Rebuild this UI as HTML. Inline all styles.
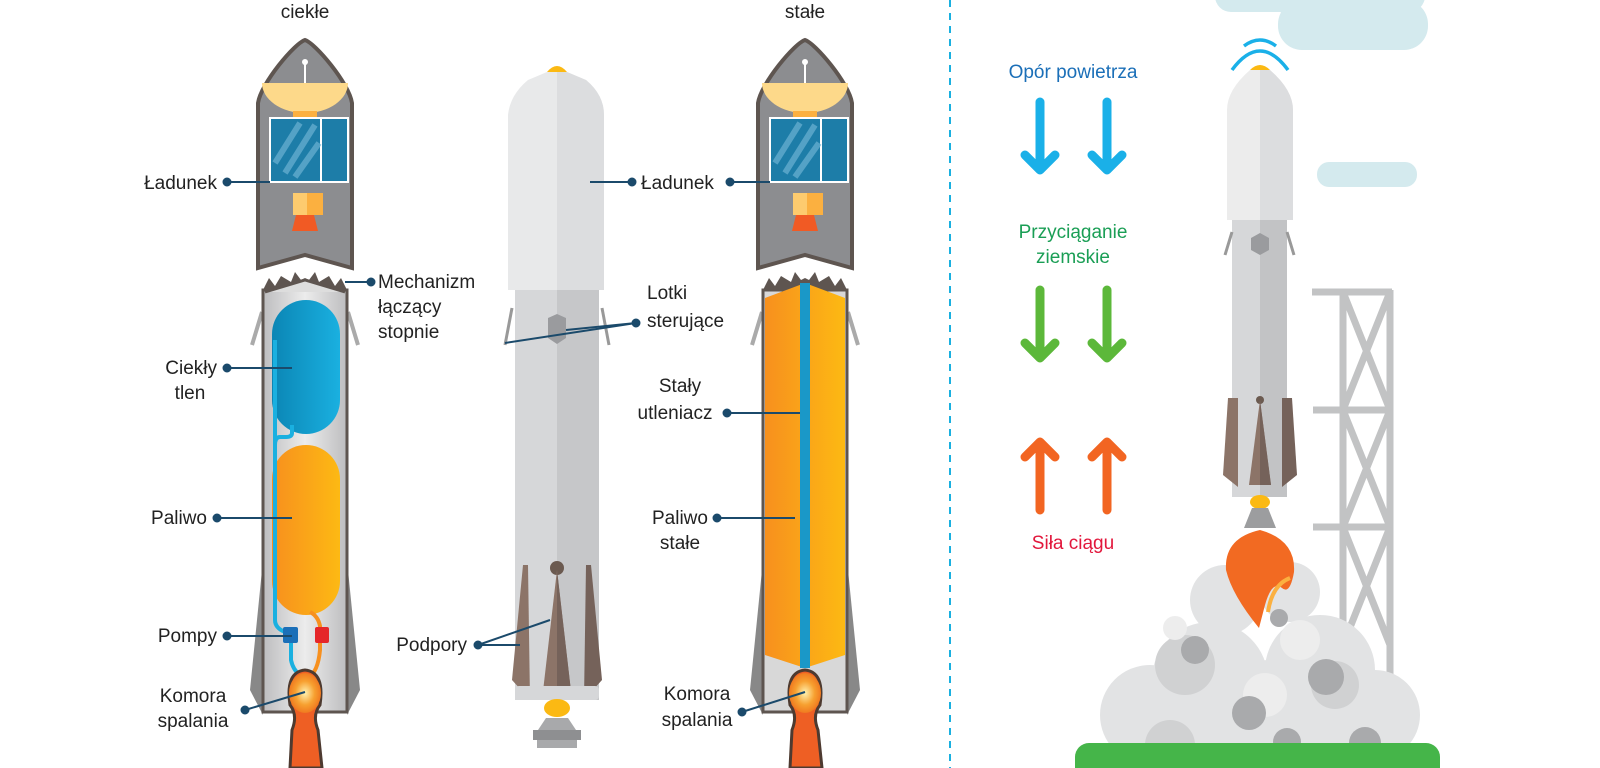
<!DOCTYPE html>
<html><head><meta charset="utf-8"><style>
html,body{margin:0;padding:0;background:#fff;}
svg{display:block;}
text{font-family:"Liberation Sans",sans-serif;font-size:19px;fill:#222;}
</style></head><body>
<svg width="1600" height="768" viewBox="0 0 1600 768" xmlns="http://www.w3.org/2000/svg">
<defs>
<linearGradient id="gb" x1="0" x2="1"><stop offset="0" stop-color="#0b86b5"/><stop offset="1" stop-color="#1ab0e0"/></linearGradient>
<linearGradient id="go" x1="0" x2="1"><stop offset="0" stop-color="#f7901e"/><stop offset="1" stop-color="#fdb913"/></linearGradient>
<linearGradient id="gs" x1="0" x2="1"><stop offset="0" stop-color="#bdbdbf"/><stop offset=".5" stop-color="#ececec"/><stop offset="1" stop-color="#bdbdbf"/></linearGradient>
<radialGradient id="gc"><stop offset="0" stop-color="#fff2b0"/><stop offset=".6" stop-color="#f7a030"/><stop offset="1" stop-color="#f07a20"/></radialGradient>
<g id="fair">
 <path d="M0,-203 C10,-200 44,-160 47,-140 L47,25 L0,12 L-47,25 L-47,-140 C-44,-160 -10,-200 0,-203Z" fill="#8c8d90" stroke="#5e5550" stroke-width="4"/>
 <line x1="0" y1="-180" x2="0" y2="-160" stroke="#fff" stroke-width="2"/><circle cx="0" cy="-181" r="3" fill="#fff"/>
 <path d="M-43,-160 L43,-160 A43,30 0 0 1 -43,-160Z" fill="#fdd98a"/>
 <rect x="-12" y="-132" width="24" height="8" fill="#fbb040"/>
 <rect x="-12" y="-50" width="30" height="22" fill="#fbb040"/><rect x="-12" y="-50" width="14" height="22" fill="#fdcb6e"/>
 <path d="M-9,-28 L9,-28 L13,-12 L-13,-12Z" fill="#f15a24"/>
 <rect x="-35" y="-125" width="78" height="64" fill="#1d7da8" stroke="#fff" stroke-width="2"/>
 <line x1="16" y1="-125" x2="16" y2="-61" stroke="#fff" stroke-width="2"/>
 <path d="M-30,-80 L-5,-120 M-20,-70 L10,-118 M-10,-66 L14,-100" stroke="#6cb3d3" stroke-width="6" opacity=".7"/>
</g>
<g id="stageTop">
 <path d="M-42,0 L-36,-12 L-30,-4 L-24,-14 L-14,-8 L-10,-18 L-4,-10 L0,-12 L4,-10 L10,-18 L14,-8 L24,-14 L30,-4 L36,-12 L42,0 Z" fill="#5e5550"/>
</g>
</defs>

<text x="305" y="18" text-anchor="middle" font-size="20">ciekłe</text>
<text x="805" y="18" text-anchor="middle" font-size="20">stałe</text>

<!-- LEFT ROCKET -->
<use href="#fair" x="305" y="243"/>
<path d="M262,312 L252,345" stroke="#aaa" stroke-width="4"/><path d="M348,312 L358,345" stroke="#aaa" stroke-width="4"/>
<path d="M263,560 L250,690 L263,715Z" fill="#888"/><path d="M347,560 L360,690 L347,715Z" fill="#888"/>
<rect x="263" y="290" width="84" height="422" fill="url(#gs)" stroke="#5e5550" stroke-width="3"/>
<use href="#stageTop" x="305" y="290"/>
<path d="M265,292 L305,280 L345,292" fill="#ddd" stroke="#5e5550" stroke-width="3"/>
<rect x="272" y="300" width="68" height="134" rx="34" fill="url(#gb)"/>
<rect x="272" y="445" width="68" height="170" rx="34" fill="url(#go)"/>
<path d="M275,340 L275,620 Q275,628 285,632 L293,640" stroke="#1ab0e0" stroke-width="4" fill="none"/>
<path d="M292,425 L292,433 Q292,437 286,437 L280,437 Q275,437 275,445" stroke="#1ab0e0" stroke-width="4" fill="none"/>
<path d="M310,612 Q318,616 320,626 L320,650 Q318,672 308,678" stroke="#f7901e" stroke-width="4" fill="none"/>
<path d="M291,640 L291,660 Q293,670 300,675" stroke="#1ab0e0" stroke-width="4" fill="none"/>
<rect x="283" y="627" width="15" height="16" rx="2" fill="#1b6fb8"/>
<rect x="315" y="627" width="14" height="16" rx="2" fill="#e52629"/>
<path d="M290,768 L292,730 Q298,715 290,705 Q285,672 305,670 Q325,672 320,705 Q312,715 318,730 L322,768Z" fill="#ee5f24" stroke="#4d3a30" stroke-width="3"/>
<ellipse cx="305" cy="693" rx="16" ry="20" fill="url(#gc)"/>

<g stroke="#1b4a6b" stroke-width="2" fill="#1b4a6b">
<line x1="227" y1="182" x2="270" y2="182"/><circle cx="227" cy="182" r="3.5"/>
<line x1="371" y1="282" x2="345" y2="282"/><circle cx="371" cy="282" r="3.5"/>
<line x1="227" y1="368" x2="292" y2="368"/><circle cx="227" cy="368" r="3.5"/>
<line x1="217" y1="518" x2="292" y2="518"/><circle cx="217" cy="518" r="3.5"/>
<line x1="227" y1="636" x2="292" y2="636"/><circle cx="227" cy="636" r="3.5"/>
<line x1="245" y1="710" x2="305" y2="692"/><circle cx="245" cy="710" r="3.5"/>
</g>
<text x="217" y="189" text-anchor="end">Ładunek</text>
<text x="378" y="288">Mechanizm</text>
<text x="378" y="313">łączący</text>
<text x="378" y="338">stopnie</text>
<text x="217" y="374" text-anchor="end">Ciekły</text>
<text x="190" y="399" text-anchor="middle">tlen</text>
<text x="207" y="524" text-anchor="end">Paliwo</text>
<text x="217" y="642" text-anchor="end">Pompy</text>
<text x="193" y="702" text-anchor="middle">Komora</text>
<text x="193" y="727" text-anchor="middle">spalania</text>

<!-- MIDDLE ROCKET -->
<path d="M547,72 Q557,60 567,72Z" fill="#fbb913"/>
<path d="M508,290 L508,115 Q510,95 528,80 L547,72 L567,72 L586,80 Q604,95 604,115 L604,290 Z" fill="#e8e9ea"/>
<path d="M557,72 L567,72 L586,80 Q604,95 604,115 L604,290 L557,290Z" fill="#dcdddf"/>
<rect x="515" y="290" width="84" height="410" fill="#d6d7d9"/>
<rect x="557" y="290" width="42" height="410" fill="#c6c7c9"/>
<path d="M512,308 L505,345" stroke="#999" stroke-width="3"/><path d="M602,308 L609,345" stroke="#999" stroke-width="3"/>
<path d="M548,318 L557,314 L566,318 L566,338 L557,344 L548,338Z" fill="#9a9b9e"/>
<circle cx="557" cy="568" r="7" fill="#6b5a50"/>
<path d="M557,570 L542,700 L572,700Z" fill="#8c7468"/><path d="M557,570 L557,700 L572,700Z" fill="#75625a"/>
<path d="M523,565 L512,680 L530,700 L528,565Z" fill="#8c7468"/>
<path d="M591,565 L602,680 L584,700 L586,565Z" fill="#75625a"/>
<rect x="515" y="686" width="84" height="14" rx="4" fill="#d6d7d9"/>
<ellipse cx="557" cy="708" rx="13" ry="9" fill="#fbb913"/>
<path d="M546,718 L568,718 L576,730 L538,730Z" fill="#a8a9ab"/>
<rect x="533" y="730" width="48" height="10" fill="#8e8f91"/>
<rect x="537" y="740" width="40" height="8" fill="#a8a9ab"/>
<g stroke="#1b4a6b" stroke-width="2" fill="#1b4a6b">
<line x1="590" y1="182" x2="632" y2="182"/><circle cx="632" cy="182" r="3.5"/>
<line x1="636" y1="323" x2="566" y2="330"/><line x1="636" y1="323" x2="505" y2="343"/><circle cx="636" cy="323" r="3.5"/>
<line x1="478" y1="645" x2="550" y2="620"/><line x1="478" y1="645" x2="520" y2="645"/><circle cx="478" cy="645" r="3.5"/>
</g>
<text x="641" y="189">Ładunek</text>
<text x="647" y="299">Lotki</text>
<text x="647" y="327">sterujące</text>
<text x="467" y="651" text-anchor="end">Podpory</text>

<!-- RIGHT ROCKET (solid) -->
<use href="#fair" x="805" y="243"/>
<path d="M762,312 L752,345" stroke="#aaa" stroke-width="4"/><path d="M848,312 L858,345" stroke="#aaa" stroke-width="4"/>
<path d="M763,560 L750,690 L763,715Z" fill="#888"/><path d="M847,560 L860,690 L847,715Z" fill="#888"/>
<rect x="763" y="290" width="84" height="422" fill="#d8d8d8" stroke="#5e5550" stroke-width="3"/>
<use href="#stageTop" x="805" y="290"/>
<path d="M765,298 L805,283 L845,298 L845,655 L805,668 L765,655Z" fill="url(#go)"/>
<rect x="800" y="283" width="10" height="385" fill="#1a98c8"/>
<path d="M790,768 L792,730 Q798,715 790,705 Q785,672 805,670 Q825,672 820,705 Q812,715 818,730 L822,768Z" fill="#ee5f24" stroke="#4d3a30" stroke-width="3"/>
<ellipse cx="805" cy="693" rx="16" ry="20" fill="url(#gc)"/>
<g stroke="#1b4a6b" stroke-width="2" fill="#1b4a6b">
<line x1="730" y1="182" x2="770" y2="182"/><circle cx="730" cy="182" r="3.5"/>
<line x1="727" y1="413" x2="800" y2="413"/><circle cx="727" cy="413" r="3.5"/>
<line x1="717" y1="518" x2="795" y2="518"/><circle cx="717" cy="518" r="3.5"/>
<line x1="742" y1="712" x2="805" y2="692"/><circle cx="742" cy="712" r="3.5"/>
</g>
<text x="680" y="392" text-anchor="middle">Stały</text>
<text x="675" y="419" text-anchor="middle">utleniacz</text>
<text x="680" y="524" text-anchor="middle">Paliwo</text>
<text x="680" y="549" text-anchor="middle">stałe</text>
<text x="697" y="700" text-anchor="middle">Komora</text>
<text x="697" y="726" text-anchor="middle">spalania</text>

<line x1="950" y1="0" x2="950" y2="768" stroke="#1ab0e0" stroke-width="2" stroke-dasharray="7,6"/>

<!-- FORCES -->
<text x="1073" y="78" text-anchor="middle" font-size="20" style="fill:#1b6fb8">Opór powietrza</text>
<g stroke="#1ab0e8" stroke-width="9" stroke-linecap="round" stroke-linejoin="round" fill="none">
<path d="M1040,102 L1040,170 M1025,155 L1040,170 L1055,155"/>
<path d="M1107,102 L1107,170 M1092,155 L1107,170 L1122,155"/>
</g>
<text x="1073" y="238" text-anchor="middle" style="fill:#1a9e55" font-size="20">Przyciąganie</text>
<text x="1073" y="263" text-anchor="middle" style="fill:#1a9e55" font-size="20">ziemskie</text>
<g stroke="#5cb83a" stroke-width="9" stroke-linecap="round" stroke-linejoin="round" fill="none">
<path d="M1040,290 L1040,358 M1025,343 L1040,358 L1055,343"/>
<path d="M1107,290 L1107,358 M1092,343 L1107,358 L1122,343"/>
</g>
<g stroke="#f26522" stroke-width="9" stroke-linecap="round" stroke-linejoin="round" fill="none">
<path d="M1040,510 L1040,442 M1025,457 L1040,442 L1055,457"/>
<path d="M1107,510 L1107,442 M1092,457 L1107,442 L1122,457"/>
</g>
<text x="1073" y="549" text-anchor="middle" style="fill:#e2173c" font-size="20">Siła ciągu</text>

<!-- clouds -->
<g fill="#d4eaee">
<rect x="1215" y="-20" width="210" height="32" rx="16"/>
<rect x="1275" y="-20" width="100" height="35" rx="14"/>
<rect x="1278" y="0" width="150" height="50" rx="24"/>
<rect x="1317" y="162" width="100" height="25" rx="12"/>
</g>
<!-- tower -->
<g stroke="#c2c3c4" stroke-width="7" fill="none">
<line x1="1343" y1="290" x2="1343" y2="730"/><line x1="1390" y1="290" x2="1390" y2="730"/>
<line x1="1312" y1="292" x2="1392" y2="292"/><line x1="1313" y1="410" x2="1390" y2="410"/><line x1="1313" y1="527" x2="1390" y2="527"/>
<path d="M1343,292 L1390,410 M1390,292 L1343,410 M1343,410 L1390,527 M1390,410 L1343,527 M1343,527 L1390,645 M1390,527 L1343,645"/>
</g>
<!-- launch rocket, center 1260 -->
<path d="M1232,70 Q1260,32 1288,70" stroke="#1ab0e8" stroke-width="3.5" fill="none"/>
<path d="M1244,46 Q1260,34 1276,46" stroke="#1ab0e8" stroke-width="3.5" fill="none"/>
<path d="M1250,70 Q1260,60 1270,70Z" fill="#fbb913"/>
<path d="M1250,70 L1270,70 Q1293,90 1293,110 L1293,220 L1227,220 L1227,110 Q1227,90 1250,70Z" fill="#ececec"/>
<path d="M1260,70 L1270,70 Q1293,90 1293,110 L1293,220 L1260,220Z" fill="#dcdddf"/>
<rect x="1232" y="220" width="55" height="277" fill="#d6d7d9"/>
<rect x="1260" y="220" width="27" height="277" fill="#c2c3c5"/>
<path d="M1232,232 L1225,255 M1287,232 L1294,255" stroke="#999" stroke-width="3"/>
<path d="M1251,238 L1260,233 L1269,238 L1269,250 L1260,255 L1251,250Z" fill="#9a9b9e"/>
<circle cx="1260" cy="400" r="4" fill="#6b5a50"/>
<path d="M1260,400 L1249,485 L1271,485Z" fill="#8c7468"/><path d="M1260,400 L1260,485 L1271,485Z" fill="#75625a"/>
<path d="M1228,398 L1223,475 L1238,487 L1238,398Z" fill="#8c7468"/><path d="M1292,398 L1297,475 L1282,487 L1282,398Z" fill="#75625a"/>
<ellipse cx="1260" cy="502" rx="10" ry="7" fill="#fbb913"/>
<path d="M1252,508 L1268,508 L1276,528 L1244,528Z" fill="#9c9d9f"/>
<!-- smoke -->
<g fill="#e2e3e4">
<circle cx="1225" cy="600" r="35"/><circle cx="1290" cy="592" r="30"/>
<circle cx="1210" cy="680" r="58"/><circle cx="1320" cy="670" r="55"/><circle cx="1150" cy="715" r="50"/>
<circle cx="1375" cy="715" r="45"/><circle cx="1270" cy="720" r="60"/><circle cx="1200" cy="745" r="50"/><circle cx="1340" cy="750" r="45"/>
</g>
<g fill="#d0d1d2"><circle cx="1185" cy="665" r="30"/><circle cx="1335" cy="685" r="24"/><circle cx="1170" cy="745" r="25"/></g>
<g fill="#ededed"><circle cx="1265" cy="695" r="22"/><circle cx="1300" cy="640" r="20"/><circle cx="1175" cy="628" r="12"/></g>
<g fill="#a9aaac"><circle cx="1195" cy="650" r="14"/><circle cx="1249" cy="713" r="17"/><circle cx="1326" cy="677" r="18"/><circle cx="1287" cy="742" r="14"/><circle cx="1365" cy="743" r="16"/><circle cx="1279" cy="618" r="9"/></g>
<path d="M1260,530 Q1296,540 1294,572 Q1290,595 1282,588 Q1272,580 1265,605 L1259,628 Q1232,595 1226,570 Q1224,538 1260,530Z" fill="#f26a22"/>
<path d="M1268,612 Q1272,585 1290,578" stroke="#fbb040" stroke-width="4" fill="none"/>
<!-- ground -->
<rect x="1075" y="743" width="365" height="60" rx="14" fill="#45b549"/>
</svg>
</body></html>
